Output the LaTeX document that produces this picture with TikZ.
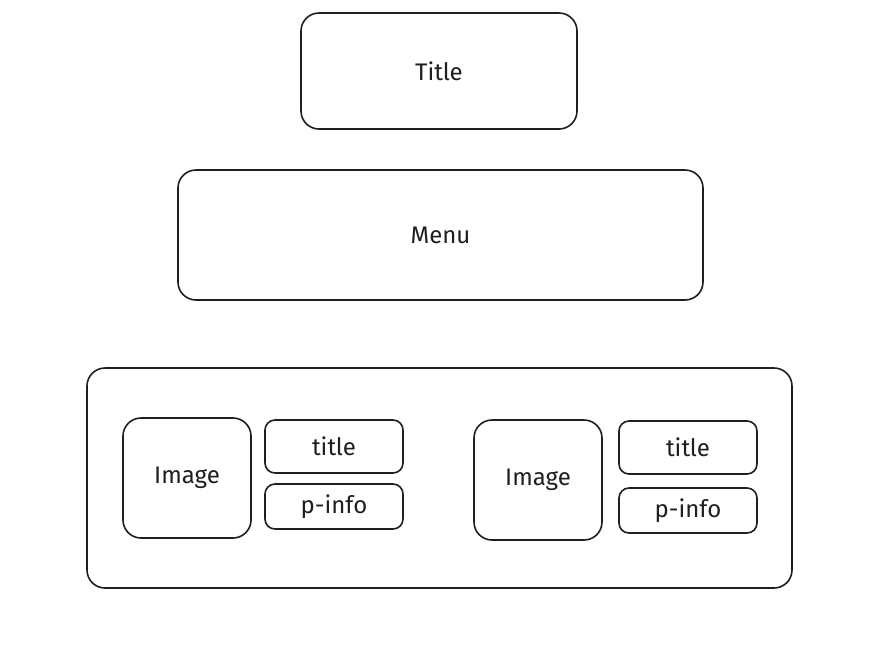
\documentclass[tikz,border=0pt]{standalone}
\usepackage{fontspec}
\setmainfont{Fira Sans}
\begin{document}
\begin{tikzpicture}[x=1pt,y=-1pt,
  sk/.style={draw=black!88,line width=1.6pt,rounded corners=#1,inner sep=0pt,
    font=\fontsize{24}{28}\selectfont,text=black!88},
  sk/.default=18pt]
\useasboundingbox[fill=white] (0,0) rectangle (886,649);
\node[sk,minimum width=276pt,minimum height=116pt] (title) at (439,71) {Title};
\node[sk,minimum width=525pt,minimum height=130pt] (menu) at (440.5,235) {Menu};
\node[sk,minimum width=705pt,minimum height=220pt] (cont) at (439.5,478) {};
\node[sk,minimum width=128pt,minimum height=120pt] (img1) at (187,478) {Image};
\node[sk=10pt,minimum width=138pt,minimum height=53pt] (t1) at (334,446.5) {title};
\node[sk=10pt,minimum width=138pt,minimum height=45pt] (p1) at (334,506.5) {p-info};
\node[sk,minimum width=128pt,minimum height=120pt] (img2) at (538,480) {Image};
\node[sk=10pt,minimum width=138pt,minimum height=53pt] (t2) at (688,447.5) {title};
\node[sk=10pt,minimum width=138pt,minimum height=45pt] (p2) at (688,510.5) {p-info};
\end{tikzpicture}
\end{document}
